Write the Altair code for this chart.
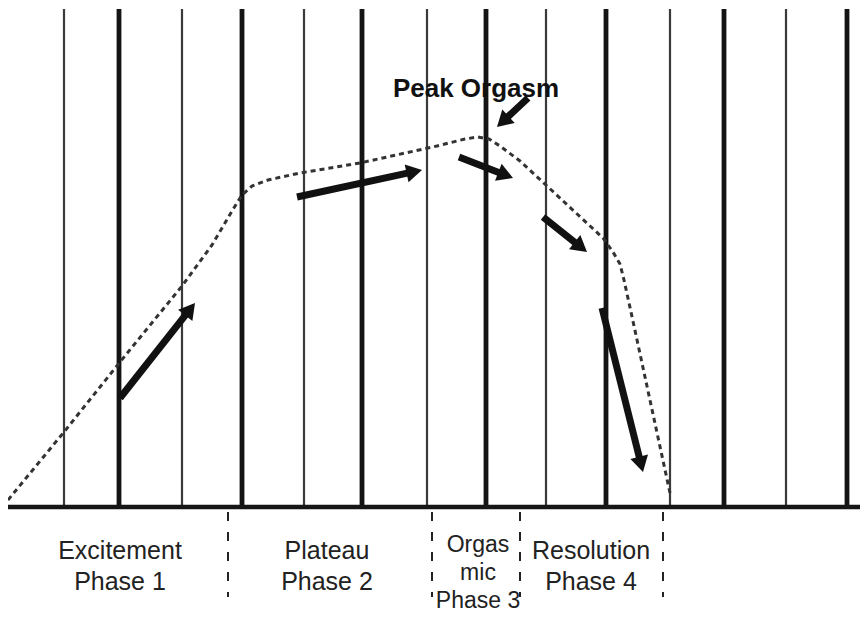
import math
import altair as alt
import pandas as pd

# ---------------- data ----------------
# vertical time grid (x position) and its weight
grid_t = [64, 119, 182, 242, 304, 362, 427, 486, 546, 606, 670, 724, 786, 847]
grid_kind = ["thin", "thick"] * 7
grid_top = 498

# dashed response curve (time, level above the baseline)
curve_t = [8, 64, 120, 182, 212, 232, 242, 252, 268, 300, 360, 437, 465, 478, 489, 500, 520, 547, 603, 613, 620, 624, 631, 670]
curve_level = [7, 75, 145, 221, 262, 296, 312, 321, 327, 334, 344, 361, 368, 370, 368, 361, 346, 321, 269, 255, 243, 227, 195, 14]

# arrows (tail -> tip)
arrow_from_t = [120, 297, 459, 543, 602, 528]
arrow_from_level = [109, 310, 350, 290, 199, 409]
arrow_to_t = [195, 422, 513, 587, 643, 497]
arrow_to_level = [204, 337, 329, 255, 35, 380]

# phase labels and separators
phase_labels = ["Excitement\nPhase 1", "Plateau\nPhase 2", "Resolution\nPhase 4"]
phase_center = [120, 327, 591]
phase_level = -52
orgasmic_label = "Orgas\nmic\nPhase 3"
orgasmic_center = 478
orgasmic_level = -45
separator_t = [228, 432, 520, 663]
separator_top, separator_bottom = -5, -90

peak_label = "Peak Orgasm"
peak_t, peak_level = 476, 410

baseline_from, baseline_to = 8, 868

# ---------------- build ----------------
W, H = 852, 607
xs = alt.Scale(domain=[8, 860])
ys = alt.Scale(domain=[-108, 499])
FONT = "Liberation Sans"

grid_df = pd.DataFrame({
    "t": grid_t,
    "top": [grid_top] * len(grid_t),
    "bottom": [0] * len(grid_t),
    "w": [2.2 if k == "thin" else 4.8 for k in grid_kind],
    "c": ["#3a3a3a" if k == "thin" else "#141414" for k in grid_kind],
})
grid = alt.Chart(grid_df).mark_rule().encode(
    x=alt.X("t:Q", scale=xs, axis=None),
    y=alt.Y("bottom:Q", scale=ys, axis=None),
    y2="top:Q",
    strokeWidth=alt.StrokeWidth("w:Q", scale=None),
    color=alt.Color("c:N", scale=None),
)

base_df = pd.DataFrame({"t": [baseline_from], "t2": [baseline_to], "lv": [0]})
baseline = alt.Chart(base_df).mark_rule(strokeWidth=4.5, color="#161616").encode(
    x=alt.X("t:Q", scale=xs, axis=None), x2="t2:Q",
    y=alt.Y("lv:Q", scale=ys, axis=None),
)

curve_df = pd.DataFrame({"t": curve_t, "lv": curve_level, "i": range(len(curve_t))})
curve = alt.Chart(curve_df).mark_line(
    strokeDash=[5, 4], strokeWidth=3, color="#333333"
).encode(
    x=alt.X("t:Q", scale=xs, axis=None),
    y=alt.Y("lv:Q", scale=ys, axis=None),
    order="i:Q",
)

HEAD = 330
h = 0.433 * math.sqrt(HEAD)
rows = []
for t0, l0, t1, l1 in zip(arrow_from_t, arrow_from_level, arrow_to_t, arrow_to_level):
    dx, dy = t1 - t0, l1 - l0
    n = math.hypot(dx, dy)
    ux, uy = dx / n, dy / n
    ang = math.degrees(math.atan2(dx, dy)) % 360
    rows.append({
        "t0": t0, "l0": l0,
        "ts": t1 - ux * (1.6 * h), "ls": l1 - uy * (1.6 * h),
        "th": t1 - ux * h, "lh": l1 - uy * h,
        "ang": ang,
    })
arr_df = pd.DataFrame(rows)
shafts = alt.Chart(arr_df).mark_rule(strokeWidth=7, color="#111111").encode(
    x=alt.X("t0:Q", scale=xs, axis=None), x2="ts:Q",
    y=alt.Y("l0:Q", scale=ys, axis=None), y2="ls:Q",
)
heads = alt.Chart(arr_df).mark_point(
    shape="triangle-up", filled=True, size=HEAD, opacity=1, color="#111111", strokeWidth=0
).encode(
    x=alt.X("th:Q", scale=xs, axis=None),
    y=alt.Y("lh:Q", scale=ys, axis=None),
    angle=alt.Angle("ang:Q", scale=None),
)

sep_df = pd.DataFrame({"t": separator_t, "a": [separator_top] * 4, "b": [separator_bottom] * 4})
seps = alt.Chart(sep_df).mark_rule(strokeDash=[9, 11], strokeWidth=2, color="#222222").encode(
    x=alt.X("t:Q", scale=xs, axis=None),
    y=alt.Y("a:Q", scale=ys, axis=None), y2="b:Q",
)

lab_df = pd.DataFrame({"t": phase_center, "lv": [phase_level] * len(phase_center), "txt": phase_labels})
labels = alt.Chart(lab_df).mark_text(
    font=FONT, fontSize=25, lineHeight=31, color="#222222", align="center",
    baseline="alphabetic", lineBreak="\n"
).encode(
    x=alt.X("t:Q", scale=xs, axis=None),
    y=alt.Y("lv:Q", scale=ys, axis=None),
    text="txt:N",
)

org_df = pd.DataFrame({"t": [orgasmic_center], "lv": [orgasmic_level], "txt": [orgasmic_label]})
org = alt.Chart(org_df).mark_text(
    font=FONT, fontSize=23, lineHeight=28, color="#222222", align="center",
    baseline="alphabetic", lineBreak="\n"
).encode(
    x=alt.X("t:Q", scale=xs, axis=None),
    y=alt.Y("lv:Q", scale=ys, axis=None),
    text="txt:N",
)

peak_df = pd.DataFrame({"t": [peak_t], "lv": [peak_level], "txt": [peak_label]})
peak = alt.Chart(peak_df).mark_text(
    font=FONT, fontSize=26, fontWeight="bold", color="#111111", align="center", baseline="alphabetic"
).encode(
    x=alt.X("t:Q", scale=xs, axis=None),
    y=alt.Y("lv:Q", scale=ys, axis=None),
    text="txt:N",
)

chart = alt.layer(grid, baseline, curve, shafts, heads, seps, labels, org, peak).properties(
    width=W, height=H, padding=0, autosize="none", background="white"
).configure_view(stroke=None)

chart.save("out.html", embed_options={"renderer": "svg", "actions": False})
